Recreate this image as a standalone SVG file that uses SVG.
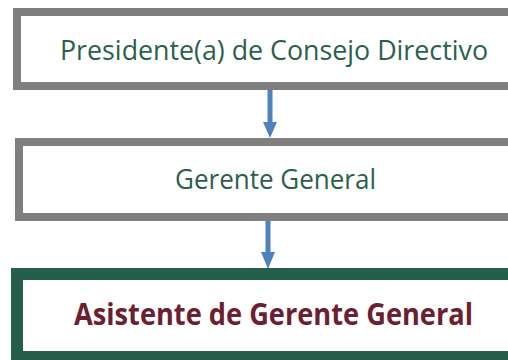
<svg xmlns="http://www.w3.org/2000/svg" width="508" height="360" viewBox="0 0 508 360">
  <style>
    .box { fill: #ffffff; }
    .gray { stroke: #7f7f7f; stroke-width: 8; }
    .green { stroke: #265e4c; stroke-width: 12; }
    .lbl { font-family: "Open Sans", "Liberation Sans", sans-serif; font-size: 28px; fill: #2b5f4b; text-anchor: middle; }
    .lbl-b { font-family: "Open Sans", "Liberation Sans", sans-serif; font-size: 30px; font-weight: bold; fill: #6b1f30; text-anchor: middle; }
    .conn { stroke: #4f81bd; stroke-width: 5; fill: none; }
    .head { fill: #4f81bd; }
  </style>
  <rect width="508" height="360" fill="#ffffff"/>
  <g id="connectors">
    <line class="conn" x1="270" y1="90" x2="270" y2="122"/>
    <path class="head" d="M263,122 L277,122 L270,138 Z"/>
    <line class="conn" x1="268" y1="221" x2="268" y2="252"/>
    <path class="head" d="M261,252 L275,252 L268,269 Z"/>
  </g>
  <g id="node-presidente">
    <path class="box gray" d="M512,12 H17 V86 H512"/>
    <text class="lbl" x="274" y="60" textLength="428" lengthAdjust="spacingAndGlyphs">Presidente(a) de Consejo Directivo</text>
  </g>
  <g id="node-gerente">
    <path class="box gray" d="M512,142 H19 V217 H512"/>
    <text class="lbl" x="275.5" y="189" textLength="201" lengthAdjust="spacingAndGlyphs">Gerente General</text>
  </g>
  <g id="node-asistente">
    <path class="box green" d="M512,274 H17 V357 H512"/>
    <text class="lbl-b" x="273.5" y="325" textLength="399" lengthAdjust="spacingAndGlyphs">Asistente de Gerente General</text>
  </g>
</svg>
